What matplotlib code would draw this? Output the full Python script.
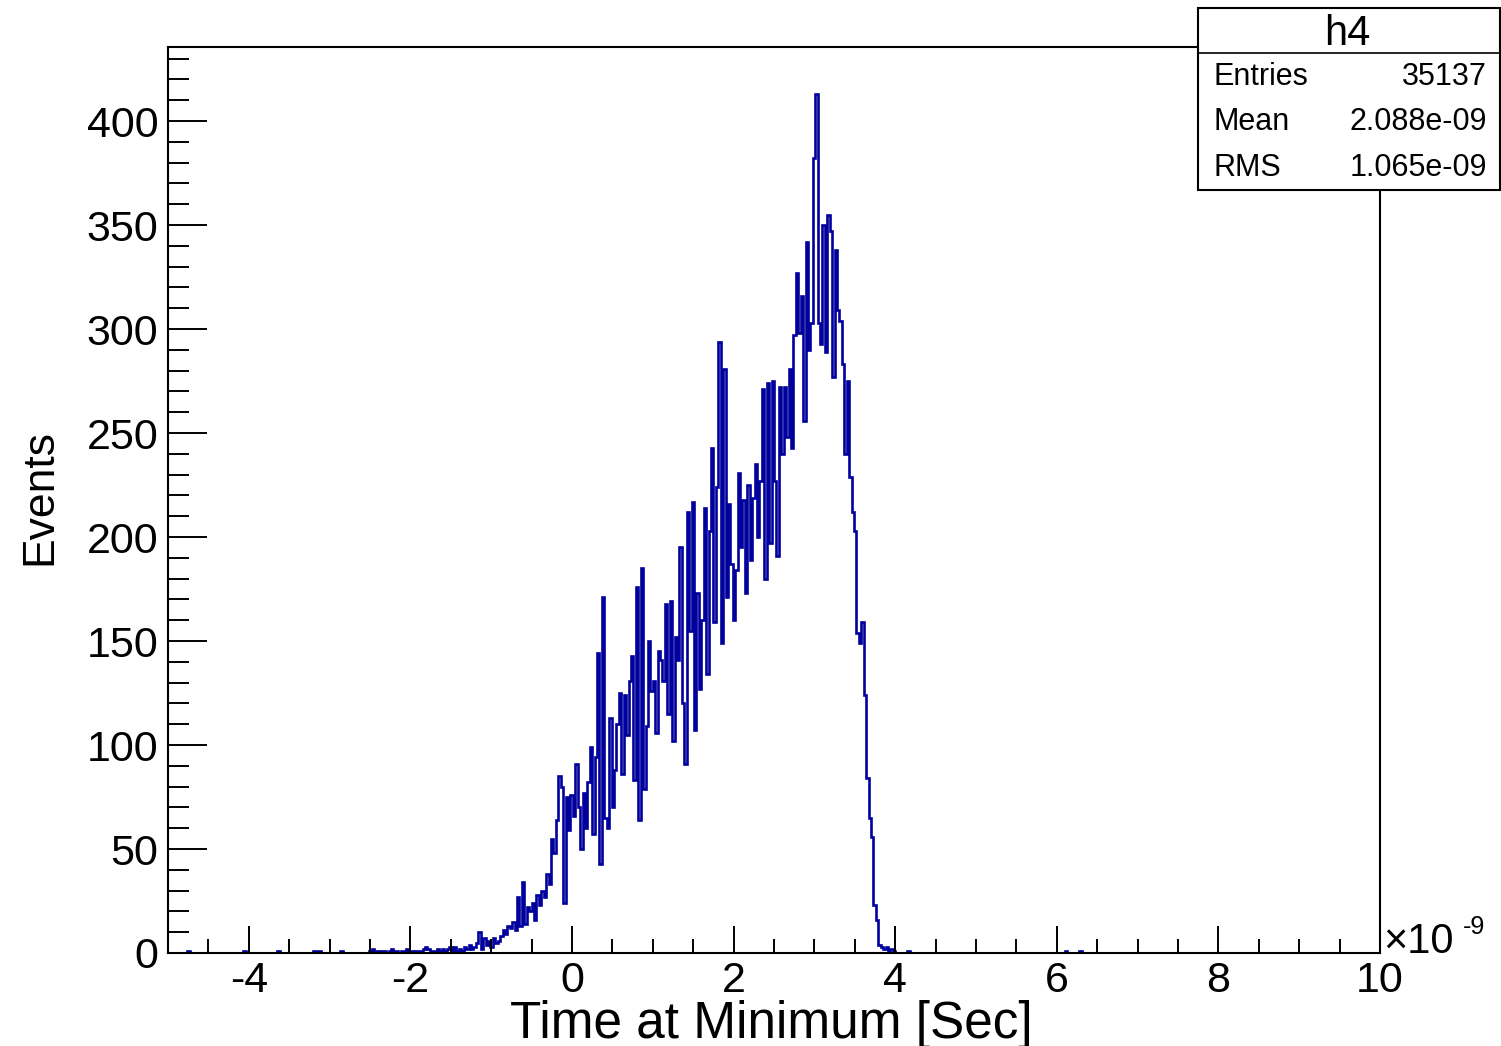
import matplotlib.pyplot as plt
import numpy as np
from matplotlib.patches import Rectangle
from matplotlib.lines import Line2D

plt.rcParams['font.family'] = ['Liberation Sans', 'DejaVu Sans']
plt.rcParams['axes.unicode_minus'] = False

# histogram h4: 500 bins from -5 to 10 (x in units of 1e-9 s)
n_bins = 500
x_min, x_max = -5.0, 10.0

# counts from bin 83 onwards
core_start = 83
core_counts = [
    1, 2, 0, 1, 0, 1, 1, 0, 1, 2,
    1, 1, 0, 1, 1, 2, 1, 1, 0, 1,
    1, 1, 2, 3, 2, 1, 1, 1, 2, 1,
    2, 1, 2, 3, 1,
    3, 1, 2, 1, 3, 2, 4, 2, 3, 5, 10, 2, 7, 4, 6, 3, 7, 5,
    6, 8, 11, 9, 13, 12, 15, 11, 27, 13, 34, 14, 22, 20, 24, 16, 28, 23, 30, 27, 38, 33, 55, 48, 64,
    85, 80, 24, 75, 59, 76, 66, 91, 70, 50, 77, 60, 82, 99, 57, 94, 144, 43, 171, 65,
    60, 113, 70, 88, 110, 125, 86, 124, 105, 131, 143, 83, 176, 64, 185, 79, 109, 150, 126, 131,
    106, 145, 141, 131, 168, 115, 169, 102, 152, 141,
    195, 120, 91, 212, 155, 217, 107, 173, 127, 160, 214, 134, 203, 243, 159, 224, 294, 149, 281, 171,
    216, 187, 160, 184, 231, 195, 218, 173, 225, 189,
    219, 235, 200, 227, 271, 180, 274, 197, 275, 227, 191, 272, 240, 272, 248, 281, 243, 297, 327, 298,
    316, 256, 342, 290, 303, 382, 413, 303, 293, 350,
    289, 355, 347, 277, 338, 309, 304, 283, 240, 275, 229, 212, 203, 154, 149, 159, 124, 84, 65, 56,
    23, 16, 4, 3, 2, 3, 1, 2, 1,
]
# isolated entries far out in the tails
tail_bins = [8, 31, 45, 60, 61, 62, 71, 305, 370, 376]
tail_counts = [1, 1, 1, 1, 1, 1, 1, 1, 1, 1]

stat_names = ['Entries', 'Mean', 'RMS']
stat_values = ['35137', '2.088e-09', '1.065e-09']

counts = np.zeros(n_bins)
counts[core_start:core_start + len(core_counts)] = core_counts
counts[tail_bins] = tail_counts
edges = np.linspace(x_min, x_max, n_bins + 1)

W, H = 1501, 1046
def fx(px):
    return px / W
def fy(py):
    return 1 - py / H

fig = plt.figure(figsize=(W / 100, H / 100), dpi=100)
ax = fig.add_axes([fx(168), fy(953), (1380 - 168) / W, (953 - 47) / H])

ax.stairs(counts, edges, color='#00009c', lw=1.9)
ax.set_xlim(x_min, x_max)
ax.set_ylim(0, 435.6)

ax.set_xticks(np.arange(-4, 11, 2))
ax.set_xticks(np.arange(-4.5, 10, 0.5), minor=True)
ax.set_yticks(np.arange(0, 401, 50))
ax.set_yticks(np.arange(0, 431, 10), minor=True)
ax.tick_params(axis='x', which='major', direction='in', length=19.5, width=1.4, pad=6, labelsize=31)
ax.tick_params(axis='x', which='minor', direction='in', length=10, width=1.4)
ax.tick_params(axis='y', which='major', direction='in', length=28, width=1.4, pad=7, labelsize=31)
ax.tick_params(axis='y', which='minor', direction='in', length=15, width=1.4)
for s in ax.spines.values():
    s.set_linewidth(1.5)

fig.text(fx(771), fy(1038), 'Time at Minimum [Sec]', fontsize=37, ha='center', va='baseline')
fig.text(fx(40), fy(497), 'Events', fontsize=32, ha='center', va='center', rotation=90)
fig.text(fx(1383), fy(953), '\u00d710', fontsize=30, ha='left', va='baseline')
fig.text(fx(1463), fy(934), '-9', fontsize=18, ha='left', va='baseline')

# stats box
fig.patches.append(Rectangle((fx(1198), fy(190)), (1500 - 1198) / W, (190 - 8) / H,
                             transform=fig.transFigure, facecolor='white',
                             edgecolor='black', lw=1.5, zorder=5))
fig.lines.append(Line2D([fx(1198), fx(1500)], [fy(53), fy(53)], transform=fig.transFigure,
                        color='black', lw=1.2, zorder=6))
fig.text(fx(1347), fy(34), 'h4', fontsize=30, ha='center', va='center', zorder=7)
for k, (name, val) in enumerate(zip(stat_names, stat_values)):
    yy = fy(77 + 45.5 * k)
    fig.text(fx(1214), yy, name, fontsize=22, ha='left', va='center', zorder=7)
    fig.text(fx(1487), yy, val, fontsize=22, ha='right', va='center', zorder=7)

fig.savefig('out.png', dpi=100)
